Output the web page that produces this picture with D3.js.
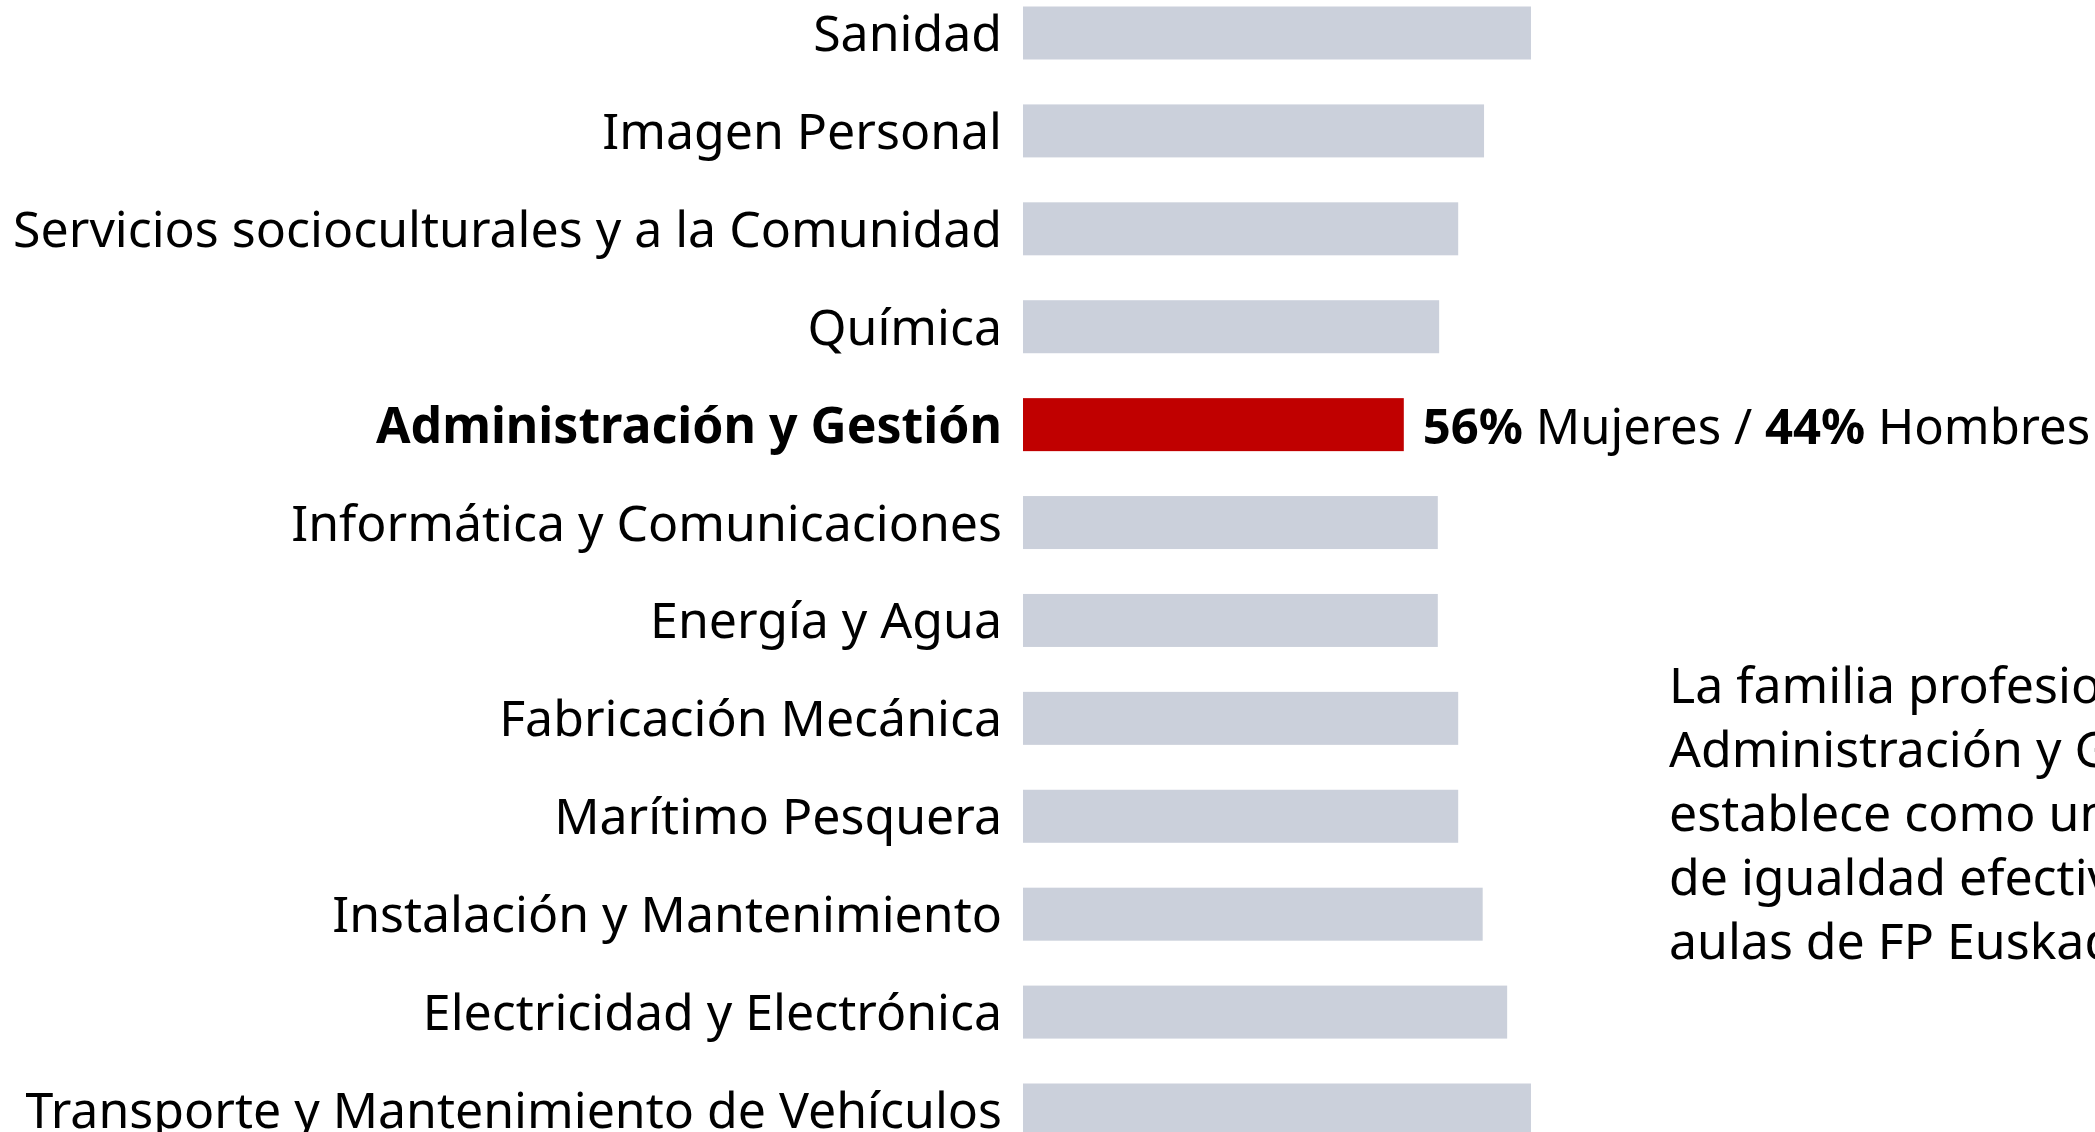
<!DOCTYPE html>
<html>
<head>
<meta charset="utf-8">
<script src="https://cdn.jsdelivr.net/npm/d3@7"></script>
<style>
  html, body { margin: 0; padding: 0; background: #fff; overflow: hidden; }
  text { font-family: "Noto Sans", "Open Sans", sans-serif; fill: #000; }
</style>
</head>
<body>
<div id="chart"></div>
<script>
// familias profesionales (de arriba abajo)
var familias = [
    "Sanidad",
    "Imagen Personal",
    "Servicios socioculturales y a la Comunidad",
    "Química",
    "Administración y Gestión",
    "Informática y Comunicaciones",
    "Energía y Agua",
    "Fabricación Mecánica",
    "Marítimo Pesquera",
    "Instalación y Mantenimiento",
    "Electricidad y Electrónica",
    "Transporte y Mantenimiento de Vehículos"
];

// % del sexo mayoritario en cada familia
var porcentajes = [74.7, 67.8, 64, 61.2, 56, 61, 61, 64, 64, 67.6, 71.2, 74.7];

var destacada = "Administración y Gestión";
var mujeres = 56, hombres = 44;

var notaLineas = [
    "La familia profesional de",
    "Administración y Gestión",
    "establece como un modelo",
    "de igualdad efectiva en las",
    "aulas de FP Euskadi."
];

var width = 2095, height = 1132;

var svg = d3.select("#chart").append("svg")
    .attr("width", width)
    .attr("height", height);

// escalas
var x = d3.scaleLinear().domain([0, 100]).range([1023, 1023 + 680]);
var y = d3.scalePoint().domain(familias).range([33, 1110]);
var barH = 53;

// barras
svg.selectAll("rect.bar")
    .data(familias)
    .enter().append("rect")
    .attr("class", "bar")
    .attr("x", x(0))
    .attr("y", function (d) { return y(d) - barH / 2; })
    .attr("width", function (d, i) { return x(porcentajes[i]) - x(0); })
    .attr("height", barH)
    .attr("fill", function (d) { return d == destacada ? "#C00000" : "#CBD0DB"; });

// etiquetas de categoria
svg.selectAll("text.label")
    .data(familias)
    .enter().append("text")
    .attr("class", "label")
    .attr("x", 1002)
    .attr("y", function (d) { return y(d) + 18; })
    .attr("text-anchor", "end")
    .style("font-size", "50px")
    .style("font-weight", function (d) { return d == destacada ? "bold" : "normal"; })
    .text(function (d) { return d; });

// etiqueta del reparto
var iDest = familias.indexOf(destacada);
var rep = svg.append("text")
    .attr("x", x(porcentajes[iDest]) + 19)
    .attr("y", y(destacada) + 19)
    .style("font-size", "49px");
rep.append("tspan").style("font-weight", "bold").text(mujeres + "%");
rep.append("tspan").text(" Mujeres / ");
rep.append("tspan").style("font-weight", "bold").text(hombres + "%");
rep.append("tspan").text(" Hombres");

// nota
svg.append("text")
    .attr("x", 1669)
    .attr("y", 703)
    .style("font-size", "50px")
    .selectAll("tspan")
    .data(notaLineas)
    .enter().append("tspan")
    .attr("x", 1669)
    .attr("dy", function (d, i) { return i == 0 ? 0 : 64; })
    .text(function (d) { return d; });
</script>
</body>
</html>
